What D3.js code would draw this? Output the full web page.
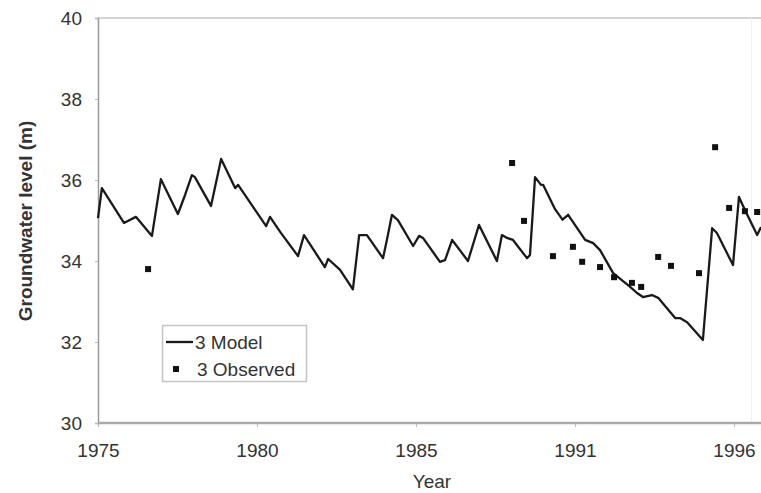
<!DOCTYPE html>
<html>
<head>
<meta charset="utf-8">
<script src="https://cdn.jsdelivr.net/npm/d3@7"></script>
<style>
  html, body { margin: 0; padding: 0; background: #fff; }
  svg { display: block; font-family: "Liberation Sans", Arial, sans-serif; }
</style>
</head>
<body>
<svg id="chart" width="761" height="493"></svg>
<script>
// Simulated groundwater level (model) at decimal years
const modelYear = [
  1975.00, 1975.13, 1975.87, 1976.27, 1976.81, 1977.11, 1977.68, 1977.92, 1978.15, 1978.25,
  1978.79, 1979.13, 1979.60, 1979.70, 1980.64, 1980.77, 1981.11, 1981.71, 1981.91, 1982.61,
  1982.72, 1983.12, 1983.55, 1983.76, 1984.02, 1984.56, 1984.69, 1984.86, 1985.06, 1985.57,
  1985.77, 1985.90, 1986.47, 1986.64, 1986.88, 1987.41, 1987.78, 1988.38, 1988.55, 1988.72,
  1988.92, 1989.39, 1989.49, 1989.66, 1989.86, 1989.93, 1990.33, 1990.58, 1990.77, 1991.34,
  1991.61, 1991.84, 1992.28, 1992.85, 1993.08, 1993.28, 1993.58, 1993.79, 1994.36, 1994.52,
  1994.76, 1995.29, 1995.60, 1995.76, 1996.30, 1996.50, 1996.70, 1997.11, 1997.24
];
const modelLevel = [
  35.06, 35.80, 34.94, 35.09, 34.62, 36.02, 35.16, 35.63, 36.12, 36.07,
  35.36, 36.52, 35.80, 35.88, 34.86, 35.09, 34.72, 34.12, 34.64, 33.85,
  34.05, 33.78, 33.30, 34.64, 34.64, 34.07, 34.52, 35.14, 35.01, 34.37,
  34.62, 34.57, 33.98, 34.02, 34.52, 34.00, 34.89, 34.00, 34.64, 34.57,
  34.52, 34.07, 34.15, 36.07, 35.88, 35.88, 35.28, 35.02, 35.14, 34.52,
  34.44, 34.27, 33.70, 33.36, 33.21, 33.11, 33.16, 33.09, 32.59, 32.59,
  32.49, 32.05, 34.81, 34.69, 33.90, 35.58, 35.26, 34.64, 34.84
];

// Observed groundwater level
const obsYear = [
  1976.68, 1988.89, 1989.29, 1990.26, 1990.93, 1991.24, 1991.84, 1992.31, 1992.91,
  1993.22, 1993.79, 1994.22, 1995.16, 1995.70, 1996.17, 1996.70, 1997.11
];
const obsLevel = [
  33.80, 36.42, 34.99, 34.12, 34.35, 33.98, 33.85, 33.60, 33.46,
  33.36, 34.10, 33.88, 33.70, 36.81, 35.31, 35.23, 35.21
];

// Axis ticks (x ticks fall every 64 months, labelled with the year)
const xTickValues = [1975, 1980 + 1 / 3, 1985 + 2 / 3, 1991, 1996 + 1 / 3];
const xTickLabels = ["1975", "1980", "1985", "1991", "1996"];
const yTickValues = [30, 32, 34, 36, 38, 40];

const seriesNames = ["3 Model", "3 Observed"];

const svg = d3.select("#chart");
const W = 761;
const textColor = "#333";

const x = d3.scaleLinear().domain([1975, 1996 + 1 / 3]).range([98, 734]);
const y = d3.scaleLinear().domain([30, 40]).range([423, 18]);

// Plot frame: light top border and a faint right edge
svg.append("line")
  .attr("x1", x(1975)).attr("x2", W)
  .attr("y1", y(40)).attr("y2", y(40))
  .attr("stroke", "#d4d4d4").attr("stroke-width", 2);
svg.append("line")
  .attr("x1", 751.5).attr("x2", 751.5)
  .attr("y1", y(40)).attr("y2", y(30))
  .attr("stroke", "#f0f0f0").attr("stroke-width", 1);

// Y axis
const yAxis = d3.axisLeft(y).tickValues(yTickValues).tickSize(3).tickPadding(13)
  .tickFormat(d3.format("d"));
const gy = svg.append("g").attr("transform", `translate(${x(1975)},0)`).call(yAxis);
gy.select(".domain").attr("stroke", "#9a9a9a").attr("stroke-width", 1.5);
gy.selectAll(".tick line").attr("stroke", "#bbb");
gy.selectAll(".tick text")
  .attr("fill", textColor)
  .style("font-size", "19px")
  .attr("font-family", "Liberation Sans, Arial, sans-serif");

// X axis
const xAxis = d3.axisBottom(x).tickValues(xTickValues).tickSize(4).tickPadding(17)
  .tickFormat((d, i) => xTickLabels[i]);
const gx = svg.append("g").attr("transform", `translate(0,${y(30)})`).call(xAxis);
gx.select(".domain").remove();
gx.append("line")
  .attr("x1", x(1975)).attr("x2", W).attr("y1", 0).attr("y2", 0)
  .attr("stroke", "#a8a8a8").attr("stroke-width", 2.5);
gx.selectAll(".tick line").attr("stroke", "#bbb");
gx.selectAll(".tick text")
  .attr("fill", textColor)
  .style("font-size", "19px")
  .attr("font-family", "Liberation Sans, Arial, sans-serif");

// Axis titles
svg.append("text")
  .attr("x", 432).attr("y", 488)
  .attr("text-anchor", "middle")
  .attr("fill", textColor)
  .style("font-size", "19px")
  .text("Year");
svg.append("text")
  .attr("transform", "translate(32,221) rotate(-90)")
  .attr("text-anchor", "middle")
  .attr("fill", textColor)
  .style("font-size", "19px")
  .style("font-weight", "bold")
  .text("Groundwater level (m)");

// Model line
const modelData = modelYear.map((t, i) => [t, modelLevel[i]]);
svg.append("path")
  .datum(modelData)
  .attr("fill", "none")
  .attr("stroke", "#1a1a1a")
  .attr("stroke-width", 2.3)
  .attr("stroke-linejoin", "round")
  .attr("d", d3.line().x(d => x(d[0])).y(d => y(d[1])));

// Observed points
const obsData = obsYear.map((t, i) => [t, obsLevel[i]]);
svg.append("g").selectAll("rect")
  .data(obsData)
  .join("rect")
  .attr("x", d => x(d[0]) - 3)
  .attr("y", d => y(d[1]) - 3)
  .attr("width", 6).attr("height", 6)
  .attr("fill", "#111");

// Legend
const lg = svg.append("g").attr("transform", "translate(162,325)");
lg.append("rect")
  .attr("x", 0.5).attr("y", 0.5).attr("width", 144).attr("height", 56)
  .attr("fill", "#fff").attr("stroke", "#c4c4c4").attr("stroke-width", 1.5);
lg.append("line")
  .attr("x1", 4).attr("x2", 31).attr("y1", 17).attr("y2", 17)
  .attr("stroke", "#1a1a1a").attr("stroke-width", 2.3);
lg.append("rect")
  .attr("x", 11).attr("y", 41).attr("width", 6).attr("height", 6)
  .attr("fill", "#111");
lg.selectAll("text.lbl")
  .data(seriesNames)
  .join("text")
  .attr("class", "lbl")
  .attr("x", (d, i) => i === 0 ? 33 : 35)
  .attr("y", (d, i) => i === 0 ? 24 : 51)
  .attr("fill", textColor)
  .style("font-size", "19px")
  .text(d => d);
</script>
</body>
</html>
